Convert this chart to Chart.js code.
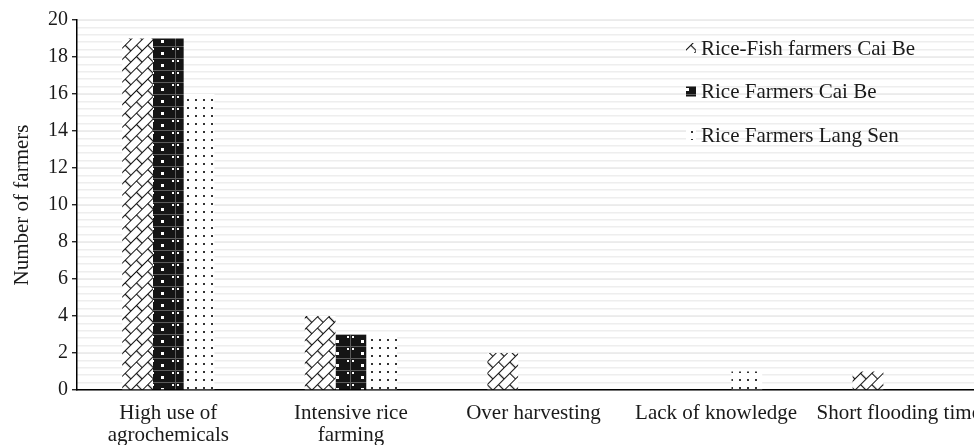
<!DOCTYPE html>
<html>
<head>
<meta charset="utf-8">
<script src="https://cdn.jsdelivr.net/npm/chart.js@4.4.0/dist/chart.umd.min.js"></script>
<style>
  html, body { margin: 0; padding: 0; overflow: hidden; background: #fff; }
  #wrap { width: 1010px; height: 445px; }
</style>
</head>
<body>
<div id="wrap"><canvas id="chart" width="1010" height="445"></canvas></div>
<script>
const categories = [
  ['High use of', 'agrochemicals'],
  ['Intensive rice', 'farming'],
  'Over harvesting',
  'Lack of knowledge',
  'Short flooding time'
];
const seriesLabels = ['Rice-Fish farmers Cai Be', 'Rice Farmers Cai Be', 'Rice Farmers Lang Sen'];
const riceFishCaiBe = [19, 4, 2, 0, 1];
const riceCaiBe = [19, 3, 0, 0, 0];
const riceLangSen = [16, 3, 0, 1, 0];

const FONT = "'Liberation Serif', 'Times New Roman', serif";

function makeTile(w, h, draw) {
  const c = document.createElement('canvas');
  c.width = w;
  c.height = h;
  draw(c.getContext('2d'));
  return c;
}

const ctx = document.getElementById('chart').getContext('2d');

// diagonal brick pattern
const brickTile = makeTile(16, 16, g => {
  g.fillStyle = '#fff';
  g.fillRect(0, 0, 16, 16);
  g.strokeStyle = '#111';
  g.lineWidth = 1.2;
  g.beginPath();
  g.moveTo(0, 0.5); g.lineTo(16, 0.5);
  g.moveTo(0, 8.5); g.lineTo(16, 8.5);
  g.moveTo(0.5, 0); g.lineTo(0.5, 8.5);
  g.moveTo(8.5, 8.5); g.lineTo(8.5, 16);
  g.stroke();
});
const brick = ctx.createPattern(brickTile, 'repeat');
brick.setTransform(new DOMMatrix().rotate(-45));

// dark pattern with white dots
const darkTile = makeTile(25, 12, g => {
  g.fillStyle = '#151515';
  g.fillRect(0, 0, 25, 12);
  g.fillStyle = '#5c5c5c';
  g.fillRect(0, 10, 25, 1);
  g.fillRect(0, 0, 1, 12);
  g.fillStyle = '#fff';
  g.fillRect(11, 4, 3, 3);
  g.fillRect(2, 0, 2, 2);
  g.fillRect(22, 0, 2, 2);
});
const dark = ctx.createPattern(darkTile, 'repeat');

// sparse dots
const dotTile = makeTile(8, 8, g => {
  g.fillStyle = '#fff';
  g.fillRect(0, 0, 8, 8);
  g.fillStyle = '#333';
  g.fillRect(3, 3, 2, 2);
});
const dots = ctx.createPattern(dotTile, 'repeat');

const fills = [brick, dark, dots];

// legend drawn inside plot area, top right
const insideLegend = {
  id: 'insideLegend',
  afterDraw(chart) {
    const c = chart.ctx;
    c.save();
    c.font = '21px ' + FONT;
    c.textBaseline = 'middle';
    c.textAlign = 'left';
    chart.data.datasets.forEach((ds, i) => {
      const y = 48 + i * 43.5;
      c.fillStyle = ds.backgroundColor;
      c.fillRect(686, y - 5, 10, 10);
      c.fillStyle = '#1a1a1a';
      c.fillText(ds.label, 701, y + 1);
    });
    c.restore();
  }
};

new Chart(ctx, {
  type: 'bar',
  data: {
    labels: categories,
    datasets: [
      { label: seriesLabels[0], data: riceFishCaiBe, backgroundColor: fills[0] },
      { label: seriesLabels[1], data: riceCaiBe, backgroundColor: fills[1] },
      { label: seriesLabels[2], data: riceLangSen, backgroundColor: fills[2] }
    ]
  },
  options: {
    responsive: false,
    animation: false,
    layout: { padding: { top: 20, right: 20, left: 0, bottom: 0 } },
    datasets: {
      bar: { categoryPercentage: 0.505, barPercentage: 1.0, borderWidth: 0 }
    },
    plugins: {
      legend: { display: false },
      tooltip: { enabled: false }
    },
    scales: {
      x: {
        grid: { display: false, drawTicks: false },
        border: { display: true, color: '#000', width: 1.5 },
        ticks: {
          autoSkip: false,
          maxRotation: 0,
          minRotation: 0,
          padding: 12,
          color: '#1a1a1a',
          font: { family: FONT, size: 21, lineHeight: 1.05 }
        },
        afterFit: s => { s.height = 55; }
      },
      y: {
        min: 0,
        max: 20,
        ticks: {
          stepSize: 2,
          padding: 4,
          color: '#1a1a1a',
          font: { family: FONT, size: 20 }
        },
        grid: { color: '#d6d6d6', lineWidth: 1.5, tickColor: '#000', tickLength: 5, tickWidth: 1.2 },
        border: { display: true, color: '#000', width: 1.5 },
        title: {
          display: true,
          text: 'Number of farmers',
          color: '#1a1a1a',
          padding: { top: 10, bottom: 0 },
          font: { family: FONT, size: 21 }
        },
        afterFit: s => { s.width = 77; }
      },
      stripes: {
        position: 'right',
        min: 0,
        max: 20,
        z: -1,
        ticks: { display: false, stepSize: 0.4, maxTicksLimit: 100, font: { size: 1 } },
        grid: { color: '#eeeeee', lineWidth: 1.5, drawTicks: false },
        border: { display: false },
        afterFit: s => { s.width = 0; }
      }
    }
  },
  plugins: [insideLegend]
});
</script>
</body>
</html>
